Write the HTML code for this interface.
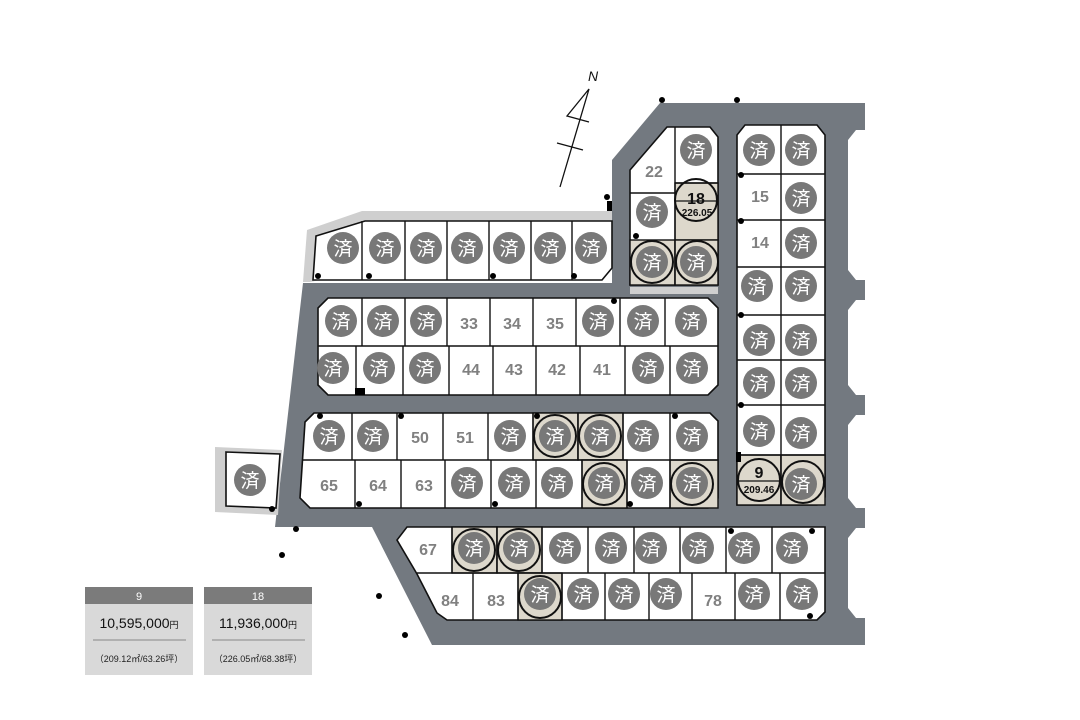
<!DOCTYPE html>
<html><head><meta charset="utf-8"><style>
body{margin:0;background:#fff;width:1080px;height:720px;overflow:hidden}
svg{display:block}
.b{fill:#fff;stroke:#111;stroke-width:1.6}
.l{stroke:#111;stroke-width:1.4}
.c{fill:#787878}
.s{fill:#fff;font-family:"Liberation Sans","Noto Sans CJK JP",sans-serif;font-size:19px;text-anchor:middle}
.n{fill:#808080;font-family:"Liberation Sans",sans-serif;font-weight:bold;font-size:16px;text-anchor:middle}
.be{fill:#ddd8cc;stroke:#111;stroke-width:1.4}
.o{fill:none;stroke:#111;stroke-width:2}
.d{fill:#000}
</style></head><body>
<svg width="1080" height="720" viewBox="0 0 1080 720" xmlns="http://www.w3.org/2000/svg">
<!-- roads -->
<polygon points="612,160 660,103 865,103 865,645 432,645 372,527 275,527 303,283 612,283" fill="#737980"/>
<!-- right cutouts -->
<polygon points="856,130 870,130 870,280 856,280 848,270 848,140" fill="#fff"/>
<polygon points="856,300 870,300 870,395 856,395 848,385 848,310" fill="#fff"/>
<polygon points="856,415 870,415 870,508 856,508 848,498 848,425" fill="#fff"/>
<polygon points="856,528 870,528 870,618 856,618 848,608 848,538" fill="#fff"/>
<!-- block A -->
<polygon points="307,230 362,211 612,211 612,222 310,282 303,282" fill="#cfcfcf"/>
<polygon points="316,236 365,221 612,221 612,268 602,280 313,280" class="b"/>
<g class="l"><line x1="362" y1="221" x2="362" y2="280"/><line x1="405" y1="221" x2="405" y2="280"/><line x1="447" y1="221" x2="447" y2="280"/><line x1="489" y1="221" x2="489" y2="280"/><line x1="531" y1="221" x2="531" y2="280"/><line x1="572" y1="221" x2="572" y2="280"/></g>
<!-- block B -->
<polygon points="667,127 710,127 718,137 718,285 630,285 630,170" class="b"/>
<rect x="630" y="287" width="88" height="7" fill="#cfcfcf"/>
<rect x="675" y="183" width="43" height="57" class="be"/>
<rect x="630" y="240" width="45" height="45" class="be"/>
<rect x="675" y="240" width="43" height="45" class="be"/>
<g class="l"><line x1="675" y1="127" x2="675" y2="285"/><line x1="630" y1="193" x2="675" y2="193"/><line x1="675" y1="183" x2="718" y2="183"/></g>
<!-- block C -->
<polygon points="745,125 817,125 825,135 825,497 817,505 737,505 737,135" class="b"/>
<rect x="737" y="455" width="44" height="50" class="be"/>
<rect x="781" y="455" width="44" height="50" class="be"/>
<g class="l"><line x1="781" y1="125" x2="781" y2="505"/><line x1="737" y1="174" x2="825" y2="174"/><line x1="737" y1="220" x2="825" y2="220"/><line x1="737" y1="267" x2="825" y2="267"/><line x1="737" y1="315" x2="825" y2="315"/><line x1="737" y1="360" x2="825" y2="360"/><line x1="737" y1="405" x2="825" y2="405"/><line x1="737" y1="455" x2="825" y2="455"/></g>
<!-- block D -->
<polygon points="328,298 708,298 718,308 718,385 708,395 328,395 318,385 318,308" class="b"/>
<g class="l"><line x1="318" y1="346" x2="718" y2="346"/>
<line x1="362" y1="298" x2="362" y2="346"/><line x1="405" y1="298" x2="405" y2="346"/><line x1="447" y1="298" x2="447" y2="346"/><line x1="490" y1="298" x2="490" y2="346"/><line x1="533" y1="298" x2="533" y2="346"/><line x1="576" y1="298" x2="576" y2="346"/><line x1="620" y1="298" x2="620" y2="346"/><line x1="665" y1="298" x2="665" y2="346"/>
<line x1="356" y1="346" x2="356" y2="395"/><line x1="403" y1="346" x2="403" y2="395"/><line x1="449" y1="346" x2="449" y2="395"/><line x1="493" y1="346" x2="493" y2="395"/><line x1="536" y1="346" x2="536" y2="395"/><line x1="580" y1="346" x2="580" y2="395"/><line x1="625" y1="346" x2="625" y2="395"/><line x1="670" y1="346" x2="670" y2="395"/></g>
<rect x="355" y="388" width="10" height="7" fill="#000"/>
<!-- block E -->
<polygon points="314,413 710,413 718,421 718,498 708,508 310,508 300,498 305,422" class="b"/>
<rect x="533" y="413" width="45" height="47" class="be"/><rect x="578" y="413" width="45" height="47" class="be"/>
<rect x="582" y="460" width="45" height="48" class="be"/><rect x="670" y="460" width="48" height="48" class="be"/>
<g class="l"><line x1="302" y1="460" x2="718" y2="460"/>
<line x1="352" y1="413" x2="352" y2="460"/><line x1="397" y1="413" x2="397" y2="460"/><line x1="443" y1="413" x2="443" y2="460"/><line x1="488" y1="413" x2="488" y2="460"/><line x1="533" y1="413" x2="533" y2="460"/><line x1="578" y1="413" x2="578" y2="460"/><line x1="623" y1="413" x2="623" y2="460"/><line x1="670" y1="413" x2="670" y2="460"/>
<line x1="355" y1="460" x2="355" y2="508"/><line x1="401" y1="460" x2="401" y2="508"/><line x1="445" y1="460" x2="445" y2="508"/><line x1="491" y1="460" x2="491" y2="508"/><line x1="536" y1="460" x2="536" y2="508"/><line x1="582" y1="460" x2="582" y2="508"/><line x1="627" y1="460" x2="627" y2="508"/><line x1="670" y1="460" x2="670" y2="508"/></g>
<!-- block F -->
<polygon points="407,527 825,527 825,612 817,620 447,620 437,613 417,574 397,540" class="b"/>
<rect x="452" y="527" width="45" height="46" class="be"/><rect x="497" y="527" width="45" height="46" class="be"/>
<rect x="518" y="573" width="44" height="47" class="be"/>
<g class="l"><line x1="417" y1="573" x2="825" y2="573"/>
<line x1="452" y1="527" x2="452" y2="573"/><line x1="497" y1="527" x2="497" y2="573"/><line x1="542" y1="527" x2="542" y2="573"/><line x1="588" y1="527" x2="588" y2="573"/><line x1="634" y1="527" x2="634" y2="573"/><line x1="680" y1="527" x2="680" y2="573"/><line x1="726" y1="527" x2="726" y2="573"/><line x1="772" y1="527" x2="772" y2="573"/>
<line x1="473" y1="573" x2="473" y2="620"/><line x1="518" y1="573" x2="518" y2="620"/><line x1="562" y1="573" x2="562" y2="620"/><line x1="605" y1="573" x2="605" y2="620"/><line x1="649" y1="573" x2="649" y2="620"/><line x1="692" y1="573" x2="692" y2="620"/><line x1="735" y1="573" x2="735" y2="620"/><line x1="780" y1="573" x2="780" y2="620"/></g>
<!-- small lot -->
<polygon points="215,447 282,450 278,515 215,512" fill="#cfcfcf"/>
<polygon points="226,452 280,454 276,508 226,506" class="b"/>
<!-- beige outline rings -->
<g class="o">
<circle cx="696" cy="200" r="21"/><circle cx="652" cy="262" r="21"/><circle cx="697" cy="262" r="21"/>
<circle cx="759" cy="480" r="21"/><circle cx="803" cy="482" r="21"/>
<circle cx="555" cy="436" r="21"/><circle cx="600" cy="436" r="21"/><circle cx="604" cy="484" r="21"/><circle cx="692" cy="484" r="21"/>
<circle cx="474" cy="550" r="21"/><circle cx="519" cy="550" r="21"/><circle cx="540" cy="597" r="21"/>
</g>
<line x1="675" y1="201" x2="717" y2="201" stroke="#111" stroke-width="1.2"/>
<line x1="738" y1="481" x2="780" y2="481" stroke="#111" stroke-width="1.2"/>
<!-- 済 circles -->
<g>
<circle class="c" cx="343" cy="248" r="16"/><circle class="c" cx="385" cy="248" r="16"/><circle class="c" cx="426" cy="248" r="16"/><circle class="c" cx="467" cy="248" r="16"/><circle class="c" cx="509" cy="248" r="16"/><circle class="c" cx="550" cy="248" r="16"/><circle class="c" cx="591" cy="248" r="16"/>
<circle class="c" cx="696" cy="150" r="16"/><circle class="c" cx="652" cy="212" r="16"/><circle class="c" cx="652" cy="262" r="16"/><circle class="c" cx="696" cy="262" r="16"/>
<circle class="c" cx="759" cy="150" r="16"/><circle class="c" cx="801" cy="150" r="16"/><circle class="c" cx="801" cy="198" r="16"/><circle class="c" cx="801" cy="243" r="16"/><circle class="c" cx="757" cy="286" r="16"/><circle class="c" cx="801" cy="286" r="16"/><circle class="c" cx="759" cy="340" r="16"/><circle class="c" cx="801" cy="340" r="16"/><circle class="c" cx="759" cy="383" r="16"/><circle class="c" cx="801" cy="383" r="16"/><circle class="c" cx="759" cy="431" r="16"/><circle class="c" cx="801" cy="433" r="16"/><circle class="c" cx="801" cy="484" r="16"/>
<circle class="c" cx="341" cy="321" r="16"/><circle class="c" cx="383" cy="321" r="16"/><circle class="c" cx="426" cy="321" r="16"/><circle class="c" cx="598" cy="321" r="16"/><circle class="c" cx="643" cy="321" r="16"/><circle class="c" cx="691" cy="321" r="16"/>
<circle class="c" cx="333" cy="368" r="16"/><circle class="c" cx="379" cy="368" r="16"/><circle class="c" cx="425" cy="368" r="16"/><circle class="c" cx="648" cy="368" r="16"/><circle class="c" cx="692" cy="368" r="16"/>
<circle class="c" cx="329" cy="436" r="16"/><circle class="c" cx="373" cy="436" r="16"/><circle class="c" cx="510" cy="436" r="16"/><circle class="c" cx="555" cy="436" r="16"/><circle class="c" cx="600" cy="436" r="16"/><circle class="c" cx="643" cy="436" r="16"/><circle class="c" cx="692" cy="436" r="16"/>
<circle class="c" cx="467" cy="483" r="16"/><circle class="c" cx="514" cy="483" r="16"/><circle class="c" cx="557" cy="483" r="16"/><circle class="c" cx="604" cy="483" r="16"/><circle class="c" cx="647" cy="483" r="16"/><circle class="c" cx="692" cy="483" r="16"/>
<circle class="c" cx="474" cy="548" r="16"/><circle class="c" cx="519" cy="548" r="16"/><circle class="c" cx="565" cy="548" r="16"/><circle class="c" cx="611" cy="548" r="16"/><circle class="c" cx="651" cy="548" r="16"/><circle class="c" cx="698" cy="548" r="16"/><circle class="c" cx="744" cy="548" r="16"/><circle class="c" cx="792" cy="548" r="16"/>
<circle class="c" cx="540" cy="594" r="16"/><circle class="c" cx="583" cy="594" r="16"/><circle class="c" cx="624" cy="594" r="16"/><circle class="c" cx="666" cy="594" r="16"/><circle class="c" cx="754" cy="594" r="16"/><circle class="c" cx="802" cy="594" r="16"/>
<circle class="c" cx="250" cy="480" r="16"/>
</g>
<g class="s">
<text x="343" y="255">済</text><text x="385" y="255">済</text><text x="426" y="255">済</text><text x="467" y="255">済</text><text x="509" y="255">済</text><text x="550" y="255">済</text><text x="591" y="255">済</text>
<text x="696" y="157">済</text><text x="652" y="219">済</text><text x="652" y="269">済</text><text x="696" y="269">済</text>
<text x="759" y="157">済</text><text x="801" y="157">済</text><text x="801" y="205">済</text><text x="801" y="250">済</text><text x="757" y="293">済</text><text x="801" y="293">済</text><text x="759" y="347">済</text><text x="801" y="347">済</text><text x="759" y="390">済</text><text x="801" y="390">済</text><text x="759" y="438">済</text><text x="801" y="440">済</text><text x="801" y="491">済</text>
<text x="341" y="328">済</text><text x="383" y="328">済</text><text x="426" y="328">済</text><text x="598" y="328">済</text><text x="643" y="328">済</text><text x="691" y="328">済</text>
<text x="333" y="375">済</text><text x="379" y="375">済</text><text x="425" y="375">済</text><text x="648" y="375">済</text><text x="692" y="375">済</text>
<text x="329" y="443">済</text><text x="373" y="443">済</text><text x="510" y="443">済</text><text x="555" y="443">済</text><text x="600" y="443">済</text><text x="643" y="443">済</text><text x="692" y="443">済</text>
<text x="467" y="490">済</text><text x="514" y="490">済</text><text x="557" y="490">済</text><text x="604" y="490">済</text><text x="647" y="490">済</text><text x="692" y="490">済</text>
<text x="474" y="555">済</text><text x="519" y="555">済</text><text x="565" y="555">済</text><text x="611" y="555">済</text><text x="651" y="555">済</text><text x="698" y="555">済</text><text x="744" y="555">済</text><text x="792" y="555">済</text>
<text x="540" y="601">済</text><text x="583" y="601">済</text><text x="624" y="601">済</text><text x="666" y="601">済</text><text x="754" y="601">済</text><text x="802" y="601">済</text>
<text x="250" y="487">済</text>
</g>
<g class="n">
<text x="654" y="177">22</text><text x="760" y="202">15</text><text x="760" y="248">14</text>
<text x="469" y="329">33</text><text x="512" y="329">34</text><text x="555" y="329">35</text>
<text x="471" y="375">44</text><text x="514" y="375">43</text><text x="557" y="375">42</text><text x="602" y="375">41</text>
<text x="420" y="443">50</text><text x="465" y="443">51</text>
<text x="329" y="491">65</text><text x="378" y="491">64</text><text x="424" y="491">63</text>
<text x="428" y="555">67</text><text x="450" y="606">84</text><text x="496" y="606">83</text><text x="713" y="606">78</text>
</g>
<g font-family="Liberation Sans,sans-serif" font-weight="bold" text-anchor="middle" fill="#111">
<text x="696" y="204" font-size="16">18</text><text x="697" y="216" font-size="10">226.05</text>
<text x="759" y="478" font-size="16">9</text><text x="759" y="493" font-size="10">209.46</text>
</g>
<!-- dots -->
<g class="d">
<circle cx="662" cy="100" r="3"/><circle cx="737" cy="100" r="3"/><circle cx="607" cy="197" r="3"/><circle cx="636" cy="236" r="3"/>
<circle cx="741" cy="175" r="3"/><circle cx="741" cy="221" r="3"/><circle cx="741" cy="315" r="3"/><circle cx="741" cy="405" r="3"/>
<circle cx="318" cy="276" r="3"/><circle cx="369" cy="276" r="3"/><circle cx="493" cy="276" r="3"/><circle cx="574" cy="276" r="3"/><circle cx="614" cy="301" r="3"/>
<circle cx="320" cy="416" r="3"/><circle cx="401" cy="416" r="3"/><circle cx="537" cy="416" r="3"/><circle cx="675" cy="416" r="3"/>
<circle cx="359" cy="504" r="3"/><circle cx="495" cy="504" r="3"/><circle cx="630" cy="504" r="3"/><circle cx="272" cy="509" r="3"/>
<circle cx="296" cy="529" r="3"/><circle cx="282" cy="555" r="3"/><circle cx="379" cy="596" r="3"/><circle cx="405" cy="635" r="3"/>
<circle cx="731" cy="531" r="3"/><circle cx="812" cy="531" r="3"/><circle cx="810" cy="616" r="3"/>
</g>
<rect x="607" y="201" width="5" height="10" fill="#000"/><rect x="736" y="452" width="5" height="10" fill="#000"/>
<!-- north arrow -->
<g stroke="#111" stroke-width="1.3" fill="none">
<polyline points="560,187 589,89 567,116 589,122"/>
<line x1="557" y1="143" x2="583" y2="150"/>
</g>
<text x="593" y="81" font-family="Liberation Sans,sans-serif" font-style="italic" font-size="14" text-anchor="middle" fill="#111">N</text>
<!-- price cards -->
<g font-family="Liberation Sans,'Noto Sans CJK JP',sans-serif" text-anchor="middle">
<rect x="85" y="587" width="108" height="88" fill="#d9d9d9"/><rect x="85" y="587" width="108" height="17" fill="#7b7b7b"/>
<text x="139" y="600" font-size="11" fill="#fff">9</text>
<text x="139" y="628" font-size="14" fill="#111">10,595,000<tspan font-size="9">円</tspan></text>
<line x1="93" y1="640" x2="186" y2="640" stroke="#888"/>
<text x="139" y="662" font-size="9" fill="#222">（209.12㎡/63.26坪）</text>
<rect x="204" y="587" width="108" height="88" fill="#d9d9d9"/><rect x="204" y="587" width="108" height="17" fill="#7b7b7b"/>
<text x="258" y="600" font-size="11" fill="#fff">18</text>
<text x="258" y="628" font-size="14" fill="#111">11,936,000<tspan font-size="9">円</tspan></text>
<line x1="212" y1="640" x2="305" y2="640" stroke="#888"/>
<text x="258" y="662" font-size="9" fill="#222">（226.05㎡/68.38坪）</text>
</g>
</svg>
</body></html>
